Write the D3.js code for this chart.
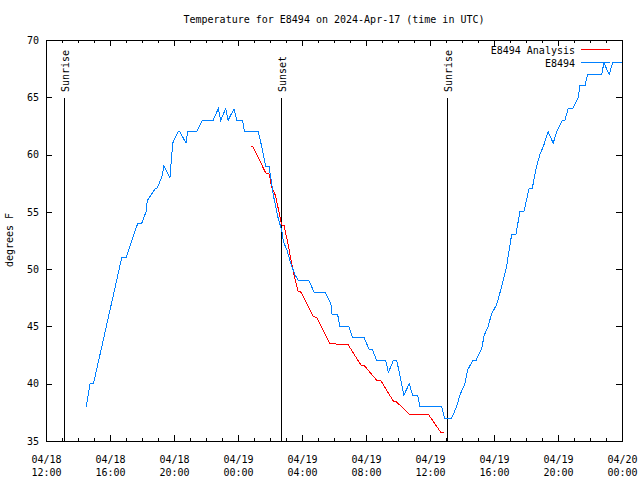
<!DOCTYPE html>
<html>
<head>
<meta charset="utf-8">
<script src="https://cdn.jsdelivr.net/npm/d3@7"></script>
<style>
  body { margin: 0; background: #fff; }
  svg { display: block; }
  text { font-family: "DejaVu Sans Mono", "Liberation Mono", monospace; font-size: 10px; fill: #000; }
</style>
</head>
<body>
<svg id="chart" width="640" height="480"></svg>
<script>
// ---------- data ----------
const titleText = "Temperature for E8494 on 2024-Apr-17 (time in UTC)";
const yLabel = "degrees F";
const xDomain = ["2024-04-18 12:00", "2024-04-20 00:00"];
const yTicks = [35, 40, 45, 50, 55, 60, 65, 70];
const xMajorTicks = ["2024-04-18 12:00","2024-04-18 16:00","2024-04-18 20:00","2024-04-19 00:00","2024-04-19 04:00",
                     "2024-04-19 08:00","2024-04-19 12:00","2024-04-19 16:00","2024-04-19 20:00","2024-04-20 00:00"];
const seriesNames = ["E8494 Analysis", "E8494"];
const sunEvents = ["Sunrise", "Sunset", "Sunrise"];
const sunTimes = ["2024-04-18 13:07", "2024-04-19 02:43", "2024-04-19 13:05"];

// observed station (blue)
const obsTimes = [
 "2024-04-18 14:31","2024-04-18 14:45","2024-04-18 14:58","2024-04-18 16:44","2024-04-18 17:00","2024-04-18 17:44",
 "2024-04-18 17:59","2024-04-18 18:15","2024-04-18 18:20","2024-04-18 18:49","2024-04-18 18:55","2024-04-18 19:14",
 "2024-04-18 19:22","2024-04-18 19:45","2024-04-18 19:55","2024-04-18 20:16","2024-04-18 20:22","2024-04-18 20:45",
 "2024-04-18 20:51","2024-04-18 21:25","2024-04-18 21:46","2024-04-18 22:27","2024-04-18 22:46","2024-04-18 22:55",
 "2024-04-18 23:14","2024-04-18 23:23","2024-04-18 23:45","2024-04-18 23:55","2024-04-19 00:17","2024-04-19 00:24",
 "2024-04-19 01:16","2024-04-19 01:26","2024-04-19 01:35","2024-04-19 01:44","2024-04-19 01:56","2024-04-19 02:06",
 "2024-04-19 02:12","2024-04-19 02:21","2024-04-19 02:31","2024-04-19 02:44","2024-04-19 02:50","2024-04-19 03:03",
 "2024-04-19 03:19","2024-04-19 03:34","2024-04-19 03:46","2024-04-19 04:26","2024-04-19 04:45","2024-04-19 05:26",
 "2024-04-19 05:48","2024-04-19 05:53","2024-04-19 06:14","2024-04-19 06:22","2024-04-19 06:56","2024-04-19 07:10",
 "2024-04-19 07:53","2024-04-19 08:12","2024-04-19 08:24","2024-04-19 08:40","2024-04-19 09:14","2024-04-19 09:24",
 "2024-04-19 09:42","2024-04-19 09:55","2024-04-19 10:05","2024-04-19 10:22","2024-04-19 10:42","2024-04-19 10:55",
 "2024-04-19 11:14","2024-04-19 11:22","2024-04-19 12:44","2024-04-19 12:54","2024-04-19 13:21","2024-04-19 13:40",
 "2024-04-19 13:52","2024-04-19 14:11","2024-04-19 14:21","2024-04-19 14:40","2024-04-19 14:52","2024-04-19 15:14",
 "2024-04-19 15:23","2024-04-19 15:38","2024-04-19 15:51","2024-04-19 16:10","2024-04-19 16:29","2024-04-19 16:47",
 "2024-04-19 17:06","2024-04-19 17:22","2024-04-19 17:37","2024-04-19 17:52","2024-04-19 18:11","2024-04-19 18:23",
 "2024-04-19 18:40","2024-04-19 18:52","2024-04-19 19:05","2024-04-19 19:23","2024-04-19 19:42","2024-04-19 19:55",
 "2024-04-19 20:17","2024-04-19 20:26","2024-04-19 20:38","2024-04-19 20:55","2024-04-19 21:16","2024-04-19 21:22",
 "2024-04-19 21:41","2024-04-19 21:51","2024-04-19 22:44","2024-04-19 22:52","2024-04-19 23:12","2024-04-19 23:25",
 "2024-04-20 00:00"];
const obsTemps = [
 38,40,40,51,51,54,
 54,55,56,57,57,58,
 59,58,61,62,62,61,
 62,62,63,63,64,63,
 64,63,64,63,63,62,
 62,61,60,59,59,57.5,
 56.5,55.5,54.4,53.4,52.4,51.7,
 50.4,49.5,49,49,48,48,
 47,46,46,45,45,44,
 44,43,43,42,42,41,
 42,42,41,39,40,39,
 39,38,38,37,37,38,
 39,40,41.2,42,42,43.1,
 44.2,45,46.1,46.9,48.5,50.2,
 53,53,55,55,57,57,
 59,60,60.7,62,61,62,
 63,63,64,64,65,66,
 66,67,67,68,67,68,
 68];

// analysis (red)
const anaTimes = [
 "2024-04-19 00:48","2024-04-19 00:55","2024-04-19 01:44","2024-04-19 01:57","2024-04-19 02:06","2024-04-19 02:21",
 "2024-04-19 02:37","2024-04-19 02:44","2024-04-19 02:53","2024-04-19 03:11","2024-04-19 03:21","2024-04-19 03:34",
 "2024-04-19 03:46","2024-04-19 03:56","2024-04-19 04:42","2024-04-19 04:55","2024-04-19 05:45","2024-04-19 06:53",
 "2024-04-19 07:41","2024-04-19 07:53","2024-04-19 08:40","2024-04-19 08:55","2024-04-19 09:42","2024-04-19 09:55",
 "2024-04-19 10:42","2024-04-19 11:53","2024-04-19 12:41","2024-04-19 12:54"];
const anaTemps = [
 60.75,60.7,58.4,58.3,57.2,56.4,
 54.6,53.85,53.8,51.8,50.5,49.1,
 48.03,48,45.85,45.8,43.5,43.4,
 41.63,41.6,40.3,40.3,38.5,38.4,
 37.35,37.35,35.75,35.75];

// ---------- chart ----------
const W = 640, H = 480;
const L = 46, R = 622, T = 40, B = 441;
const parse = d3.utcParse("%Y-%m-%d %H:%M");
const svg = d3.select("#chart");

const x = d3.scaleUtc().domain(xDomain.map(parse)).range([L, R]);
const y = d3.scaleLinear().domain([35, 70]).range([B, T]);

const majors = xMajorTicks.map(parse);
const minors = d3.utcHour.every(1).range(x.domain()[0], d3.utcHour.offset(x.domain()[1], 1));

// minor ticks (bottom + top)
svg.append("g").attr("transform", `translate(0,${B})`)
  .call(d3.axisBottom(x).tickValues(minors).tickSizeInner(-3).tickSizeOuter(0).tickFormat(""))
  .call(g => g.select(".domain").remove());
svg.append("g").attr("transform", `translate(0,${T})`)
  .call(d3.axisTop(x).tickValues(minors).tickSizeInner(-3).tickSizeOuter(0).tickFormat(""))
  .call(g => g.select(".domain").remove());
// major ticks
const fmtDate = d3.utcFormat("%m/%d"), fmtTime = d3.utcFormat("%H:%M");
const xb = svg.append("g").attr("transform", `translate(0,${B})`)
  .call(d3.axisBottom(x).tickValues(majors).tickSizeInner(-6).tickSizeOuter(0).tickPadding(12).tickFormat(""))
  .call(g => g.select(".domain").remove());
xb.selectAll(".tick").each(function(d) {
  const t = d3.select(this).select("text").attr("dy", null).attr("y", 0);
  t.append("tspan").attr("x", 0).attr("y", 22).text(fmtDate(d));
  t.append("tspan").attr("x", 0).attr("y", 35).text(fmtTime(d));
});
svg.append("g").attr("transform", `translate(0,${T})`)
  .call(d3.axisTop(x).tickValues(majors).tickSizeInner(-6).tickSizeOuter(0).tickFormat(""))
  .call(g => g.select(".domain").remove());

// y axes
svg.append("g").attr("transform", `translate(${L},0)`)
  .call(d3.axisLeft(y).tickValues(yTicks).tickSizeInner(-6).tickSizeOuter(0).tickPadding(7))
  .call(g => g.select(".domain").remove());
svg.append("g").attr("transform", `translate(${R},0)`)
  .call(d3.axisRight(y).tickValues(yTicks).tickSizeInner(-6).tickSizeOuter(0).tickFormat(""))
  .call(g => g.select(".domain").remove());

svg.selectAll(".tick line").attr("stroke", "#000").attr("shape-rendering", "crispEdges");
svg.selectAll(".tick text").attr("font-family", "DejaVu Sans Mono, monospace").attr("font-size", 10).attr("fill", "#000");

// sun lines
sunTimes.forEach((s, i) => {
  const sx = Math.round(x(parse(s))) + 0.5;
  svg.append("line").attr("x1", sx).attr("x2", sx).attr("y1", 98).attr("y2", B)
    .attr("stroke", "#000").attr("stroke-width", 1).attr("shape-rendering", "crispEdges");
  svg.append("text").attr("transform", `translate(${sx + 4},92) rotate(-90)`)
    .attr("text-anchor", "start").text(sunEvents[i]);
});

// lines
const line = d3.line().x(d => x(d[0])).y(d => y(d[1]));
const anaData = anaTimes.map((t, i) => [parse(t), anaTemps[i]]);
const obsData = obsTimes.map((t, i) => [parse(t), obsTemps[i]]);
svg.append("path").datum(anaData).attr("d", line).attr("fill", "none")
  .attr("stroke", "#ff0000").attr("stroke-width", 1).attr("shape-rendering", "crispEdges");
svg.append("path").datum(obsData).attr("d", line).attr("fill", "none")
  .attr("stroke", "#0080ff").attr("stroke-width", 1).attr("shape-rendering", "crispEdges");

// frame
svg.append("rect").attr("x", L + 0.5).attr("y", T + 0.5).attr("width", R - L).attr("height", B - T)
  .attr("fill", "none").attr("stroke", "#000").attr("shape-rendering", "crispEdges");

// title & labels
svg.append("text").attr("x", 334).attr("y", 23).attr("text-anchor", "middle").text(titleText);
svg.append("text").attr("transform", "translate(13,240) rotate(-90)").attr("text-anchor", "middle").text(yLabel);

// legend
const legColors = ["#ff0000", "#0080ff"];
seriesNames.forEach((n, i) => {
  const ly = 50 + i * 13;
  svg.append("text").attr("x", 575).attr("y", ly + 3.5).attr("text-anchor", "end").text(n);
  svg.append("line").attr("x1", 581).attr("x2", 610).attr("y1", ly - 0.5).attr("y2", ly - 0.5)
    .attr("stroke", legColors[i]).attr("shape-rendering", "crispEdges");
});
</script>
</body>
</html>
